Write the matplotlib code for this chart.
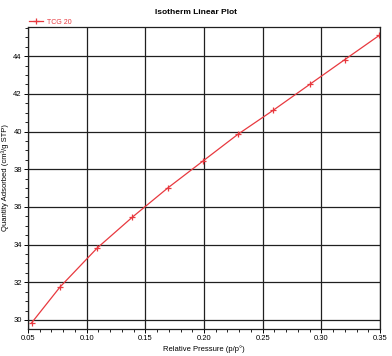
import matplotlib.pyplot as plt
from matplotlib.ticker import MultipleLocator

plt.rcParams['font.family'] = ['Liberation Sans', 'DejaVu Sans']

# TCG 20 isotherm points
pressure = [0.053, 0.0773, 0.109, 0.139, 0.169, 0.199, 0.229, 0.259, 0.290, 0.320, 0.3495]
adsorbed = [29.84, 31.75, 33.82, 35.46, 37.0, 38.43, 39.86, 41.13, 42.5, 43.82, 45.11]
series_name = 'TCG 20'

red = '#e8393f'

fig = plt.figure(figsize=(3.92, 3.56), dpi=100)
ax = fig.add_axes([28/392, 1 - 329/356, 352/392, 302/356])

ax.plot(pressure, adsorbed, color=red, lw=0.9, marker='+', ms=4.5, mew=0.9, label=series_name)

ax.set_xlim(0.05, 0.35)
ax.set_ylim(29.52, 45.55)
ax.xaxis.set_major_locator(MultipleLocator(0.05))
ax.xaxis.set_minor_locator(MultipleLocator(0.01))
ax.yaxis.set_major_locator(MultipleLocator(2))
ax.yaxis.set_minor_locator(MultipleLocator(0.5))
ax.xaxis.set_major_formatter(plt.FuncFormatter(lambda v, p: '%.2f' % v))

ax.grid(True, which='major', color='#202020', lw=0.9)
ax.set_axisbelow(True)
ax.tick_params(which='major', direction='out', length=3, width=0.7, labelsize=5.5, pad=1.5)
ax.tick_params(which='minor', direction='out', length=2, width=0.6)
for s in ax.spines.values():
    s.set_linewidth(0.9)
    s.set_color('#202020')

ax.set_xlabel('Relative Pressure (p/p°)', fontsize=5.5, labelpad=2)
ax.set_ylabel('Quantity Adsorbed (cm³/g STP)', fontsize=5.5, labelpad=3)
fig.text(0.5, 1 - 12/356, 'Isotherm Linear Plot', ha='center', va='center',
         fontsize=6, fontweight='bold')

ax.legend(loc='lower left', bbox_to_anchor=(0.0, 1.0), frameon=False, fontsize=5,
          labelcolor=red, handlelength=1.9, handletextpad=0.6, borderpad=0, borderaxespad=0.2)

fig.savefig('out.png', dpi=100)
